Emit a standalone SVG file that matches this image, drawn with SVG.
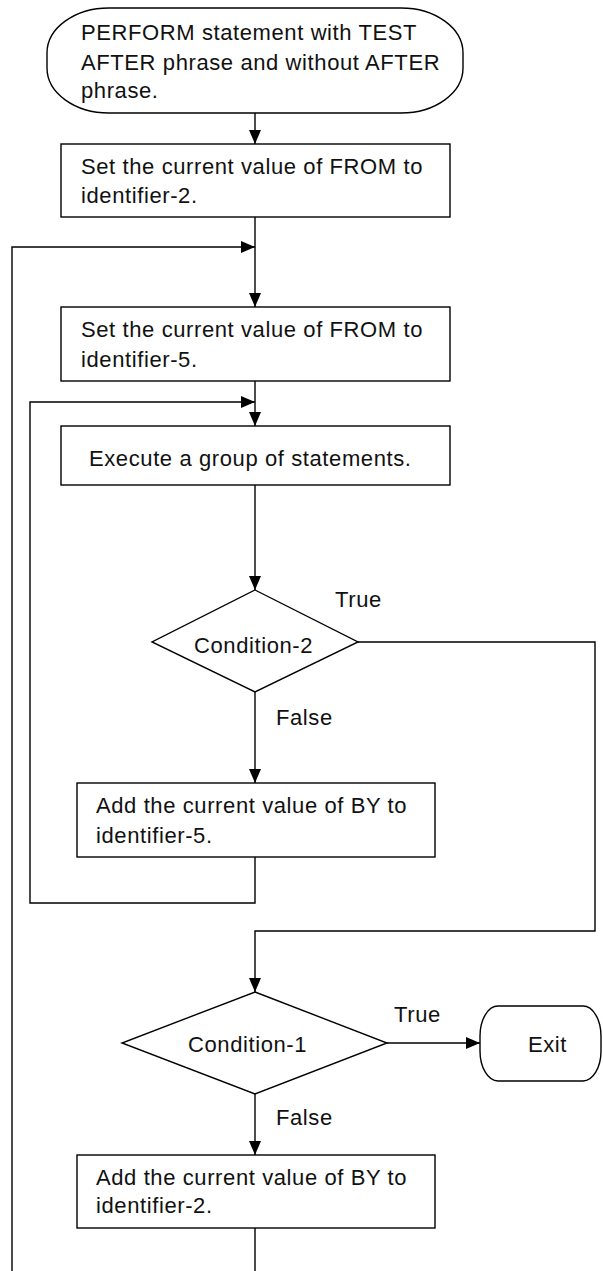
<svg xmlns="http://www.w3.org/2000/svg" width="603" height="1271" viewBox="0 0 603 1271">
<style>
.shape{fill:#fff;stroke:#000;stroke-width:1.4}
.ln{fill:none;stroke:#000;stroke-width:1.4}
text{font-family:"Liberation Sans",Arial,sans-serif;font-size:22px;letter-spacing:0.6px;fill:#111}
</style>
<defs>
<marker id="ah" markerUnits="userSpaceOnUse" markerWidth="14" markerHeight="12" refX="14" refY="6" orient="auto">
<path d="M0,0 L14,6 L0,12 z" fill="#000"/>
</marker>
</defs>
<rect width="603" height="1271" fill="#fff"/>
<g id="connectors">
<path class="ln" d="M255,113 V144" marker-end="url(#ah)"/>
<path class="ln" d="M255,217 V307" marker-end="url(#ah)"/>
<path class="ln" d="M255,1228 V1280 H12 V247 H255" marker-end="url(#ah)"/>
<path class="ln" d="M255,381 V426" marker-end="url(#ah)"/>
<path class="ln" d="M255,857 V903 H30 V402 H255" marker-end="url(#ah)"/>
<path class="ln" d="M255,485 V590" marker-end="url(#ah)"/>
<path class="ln" d="M255,692 V783" marker-end="url(#ah)"/>
<path class="ln" d="M358,642 H595 V931 H255 V992" marker-end="url(#ah)"/>
<path class="ln" d="M255,1094 V1155" marker-end="url(#ah)"/>
<path class="ln" d="M387,1043 H480" marker-end="url(#ah)"/>
<text x="335" y="607">True</text>
<text x="276" y="725">False</text>
<text x="394" y="1022">True</text>
<text x="276" y="1125">False</text>
</g>
<g id="start">
<rect class="shape" x="47" y="8" width="416" height="105" rx="62" ry="45"/>
<text x="81" y="40">PERFORM statement with TEST</text>
<text x="81" y="70">AFTER phrase and without AFTER</text>
<text x="81" y="98">phrase.</text>
</g>
<g id="setFrom2">
<rect class="shape" x="61" y="144" width="389" height="73"/>
<text x="81" y="174">Set the current value of FROM to</text>
<text x="81" y="203">identifier-2.</text>
</g>
<g id="setFrom5">
<rect class="shape" x="61" y="307" width="389" height="74"/>
<text x="81" y="337">Set the current value of FROM to</text>
<text x="81" y="367">identifier-5.</text>
</g>
<g id="execute">
<rect class="shape" x="61" y="426" width="389" height="59"/>
<text x="89" y="466">Execute a group of statements.</text>
</g>
<g id="condition2">
<polygon class="shape" points="255,590 358,642 255,692 152,642"/>
<text x="194" y="653">Condition-2</text>
</g>
<g id="addBy5">
<rect class="shape" x="77" y="783" width="358" height="74"/>
<text x="96" y="813">Add the current value of BY to</text>
<text x="96" y="843">identifier-5.</text>
</g>
<g id="condition1">
<polygon class="shape" points="255,992 387,1043 255,1094 122,1043"/>
<text x="188" y="1052">Condition-1</text>
</g>
<g id="exit">
<rect class="shape" x="480" y="1006" width="121" height="75" rx="18" ry="30"/>
<text x="528" y="1052">Exit</text>
</g>
<g id="addBy2">
<rect class="shape" x="77" y="1155" width="358" height="73"/>
<text x="96" y="1185">Add the current value of BY to</text>
<text x="96" y="1213">identifier-2.</text>
</g>
</svg>
